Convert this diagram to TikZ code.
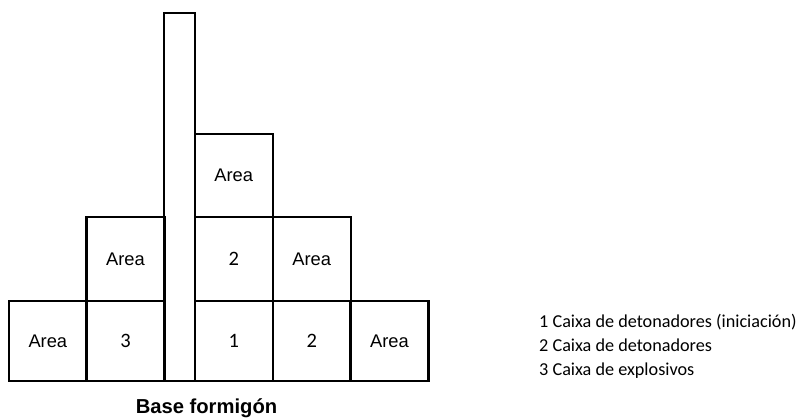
\documentclass[tikz,border=0pt]{standalone}
\usepackage{fontspec}
\setmainfont{Liberation Sans}
\newfontfamily\legendfont{Carlito}
\tikzset{
  cell/.style={draw, line width=2.2pt, inner sep=0pt, outer sep=0pt, minimum width=78pt, font=\fontsize{18.3}{20}\selectfont},
  numcell/.style={cell, font=\legendfont\fontsize{20.5}{22}\selectfont},
  legend/.style={anchor=base west, inner sep=0pt, font=\legendfont\fontsize{18.2}{22}\selectfont}
}
\begin{document}
\begin{tikzpicture}[x=1pt, y=-1pt]
        \useasboundingbox (0,0) rectangle (802,419);

        % Column
        \node[cell, minimum width=30.4pt, minimum height=368.3pt] (column) at (179.5, 196.85) {};

        % Bottom row
        \node[cell, minimum height=80pt] (areaBL) at (47.85, 341) {Area};
        \node[numcell, minimum height=80pt] (box3) at (125.5, 341) {3};
        \node[numcell, minimum height=80pt] (box1) at (233.7, 341) {1};
        \node[numcell, minimum height=80pt] (box2b) at (311.7, 341) {2};
        \node[cell, minimum height=80pt] (areaBR) at (389.5, 341) {Area};

        % Middle row
        \node[cell, minimum height=84.3pt] (areaML) at (125.5, 258.85) {Area};
        \node[numcell, minimum height=84.3pt] (box2m) at (233.7, 258.85) {2};
        \node[cell, minimum height=84.3pt] (areaMR) at (311.7, 258.85) {\raisebox{-4pt}{Area}};

        % Top
        \node[cell, minimum height=82.4pt] (areaT) at (233.7, 175.5) {Area};

        % Caption
        \node[anchor=base, inner sep=0pt, font=\bfseries\fontsize{20.2}{22}\selectfont] (base) at (206.5, 413) {Base formigón};

        % Legend
        \node[legend] (leg1) at (539, 327.3) {1 Caixa de detonadores (iniciación)};
        \node[legend] (leg2) at (539, 351) {2 Caixa de detonadores};
        \node[legend] (leg3) at (539, 375.5) {3 Caixa de explosivos};
    \end{tikzpicture}
\end{document}
